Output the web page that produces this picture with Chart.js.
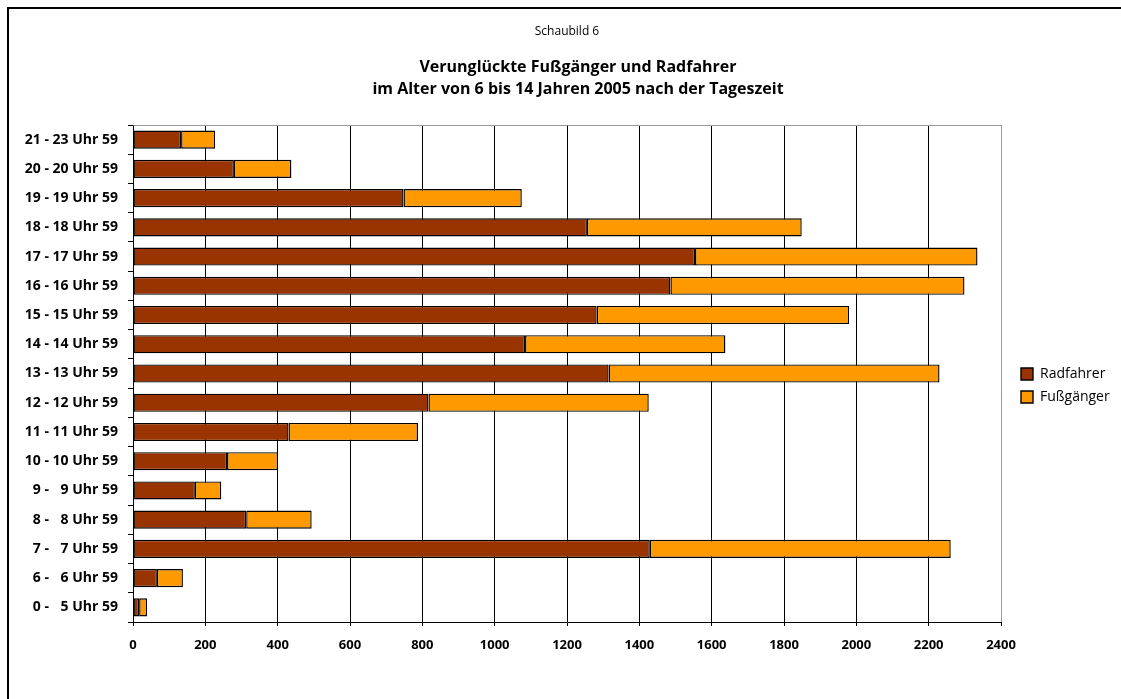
<!DOCTYPE html>
<html lang="de">
<head>
<meta charset="utf-8">
<title>Schaubild 6</title>
<script src="https://cdn.jsdelivr.net/npm/chart.js@4.4.1/dist/chart.umd.min.js"></script>
<style>
  html, body { margin: 0; padding: 0; background: #fff; overflow: hidden; }
  #frame {
    position: absolute; left: 7px; top: 7px; width: 1300px; height: 900px;
    border-left: 2px solid #000; border-top: 2px solid #000;
  }
  #chart { position: absolute; left: 0; top: 0; }
</style>
</head>
<body>
<div id="frame"></div>
<canvas id="chart" width="1121" height="699"></canvas>
<script>
// time slots, earliest first (y axis is reversed so the night sits at the bottom)
const timeSlots = [
    "0 - \u20075 Uhr 59", "6 - \u20076 Uhr 59", "7 - \u20077 Uhr 59", "8 - \u20078 Uhr 59",
    "9 - \u20079 Uhr 59", "10 - 10 Uhr 59", "11 - 11 Uhr 59", "12 - 12 Uhr 59",
    "13 - 13 Uhr 59", "14 - 14 Uhr 59", "15 - 15 Uhr 59", "16 - 16 Uhr 59",
    "17 - 17 Uhr 59", "18 - 18 Uhr 59", "19 - 19 Uhr 59", "20 - 20 Uhr 59",
    "21 - 23 Uhr 59"
];
const radfahrer = [17, 66, 1429, 313, 171, 260, 430, 817, 1315, 1084, 1282, 1486, 1554, 1255, 748, 279, 133];
const fussgaenger = [22, 72, 832, 181, 73, 141, 358, 609, 915, 554, 698, 813, 781, 594, 327, 159, 94];
const xMax = 2400;
const xStep = 200;

const titleLines = [
    "Verunglückte Fußgänger und Radfahrer",
    "im Alter von 6 bis 14 Jahren 2005 nach der Tageszeit"
];

// where the plot area should end up on the canvas
const plot = { left: 133, top: 125, right: 1001, bottom: 622 };
const titleCenterX = 578;
const FONT = "'Open Sans', 'Noto Sans', sans-serif";

Chart.defaults.color = "#000";
Chart.defaults.font.family = FONT;

const padL = 8;
let padR = 20;

// gray line along the top of the plot area
const plotFrame = {
    id: "plotFrame",
    beforeDatasetsDraw(chart) {
        let a = chart.chartArea;
        let ctx = chart.ctx;
        ctx.save();
        ctx.strokeStyle = "#999";
        ctx.lineWidth = 1;
        ctx.beginPath();
        ctx.moveTo(Math.round(a.left) + 0.5, Math.round(a.top) + 0.5);
        ctx.lineTo(Math.round(a.right) + 0.5, Math.round(a.top) + 0.5);
        ctx.stroke();
        ctx.restore();
    }
};

// legend a bit away from the plot and slightly below its middle,
// the two-line heading a bit right of the plot centre
const boxNudge = {
    id: "boxNudge",
    afterLayout(chart) {
        let lg = chart.legend;
        let dx = chart.chartArea.right + 11 - lg.left;
        lg.left += dx;
        lg.right += dx;
        lg.top += 12;
        lg.bottom += 12;

        let sub = chart.boxes.find(b => b !== chart.titleBlock && b !== lg && !(b instanceof Chart.Scale));
        if (sub) {
            let sx = titleCenterX - (sub.left + sub.right) / 2;
            sub.left += sx;
            sub.right += sx;
        }
    }
};

const chart = new Chart(document.getElementById("chart"), {
    type: "bar",
    data: {
        labels: timeSlots,
        datasets: [
            {
                label: "Radfahrer", data: radfahrer,
                backgroundColor: "#993300", borderColor: "#000", borderWidth: 1.4, borderSkipped: false
            },
            {
                label: "Fußgänger", data: fussgaenger,
                backgroundColor: "#FF9900", borderColor: "#000", borderWidth: 1.4, borderSkipped: false
            }
        ]
    },
    options: {
        indexAxis: "y",
        responsive: false,
        animation: false,
        devicePixelRatio: 1,
        layout: { padding: { left: padL, right: padR, top: 0, bottom: 0 } },
        datasets: { bar: { barPercentage: 0.62, categoryPercentage: 1 } },
        scales: {
            x: {
                stacked: true,
                min: 0,
                max: xMax,
                ticks: {
                    stepSize: xStep,
                    padding: 11,
                    font: { size: 13, weight: "bold" },
                    callback: v => String(v)
                },
                grid: {
                    color: c => (c.tick && c.tick.value === xMax) ? "#999" : "#000",
                    lineWidth: 1,
                    tickColor: "#000",
                    tickLength: 4
                },
                border: { color: "#000", width: 1 },
                afterFit: s => { s.height = 699 - plot.bottom; }
            },
            y: {
                stacked: true,
                reverse: true,
                ticks: { padding: 10, font: { size: 14, weight: "bold" } },
                grid: {
                    offset: true,
                    drawOnChartArea: false,
                    drawTicks: true,
                    tickLength: 5,
                    tickColor: "#000"
                },
                border: { color: "#000", width: 1 },
                afterFit: s => { s.width = plot.left - padL; }
            }
        },
        plugins: {
            title: {
                display: true,
                text: "Schaubild 6",
                fullSize: false,
                font: { size: 12, weight: "normal", lineHeight: 1.2 },
                padding: { top: 24, bottom: 10 }
            },
            subtitle: {
                display: true,
                text: titleLines,
                color: "#000",
                font: { size: 16, weight: "bold", lineHeight: 1.35 },
                padding: { top: 8, bottom: 25 }
            },
            legend: {
                position: "right",
                fullSize: false,
                labels: { boxWidth: 12, boxHeight: 12, padding: 9, font: { size: 14 }, color: "#000" }
            },
            tooltip: { enabled: false }
        }
    },
    plugins: [plotFrame, boxNudge]
});

// settle the outer padding so the plot area lands where it should
padR += chart.chartArea.right - plot.right;
chart.options.layout.padding.right = padR;
chart.options.layout.padding.top += plot.top - chart.chartArea.top;
chart.update();
</script>
</body>
</html>
